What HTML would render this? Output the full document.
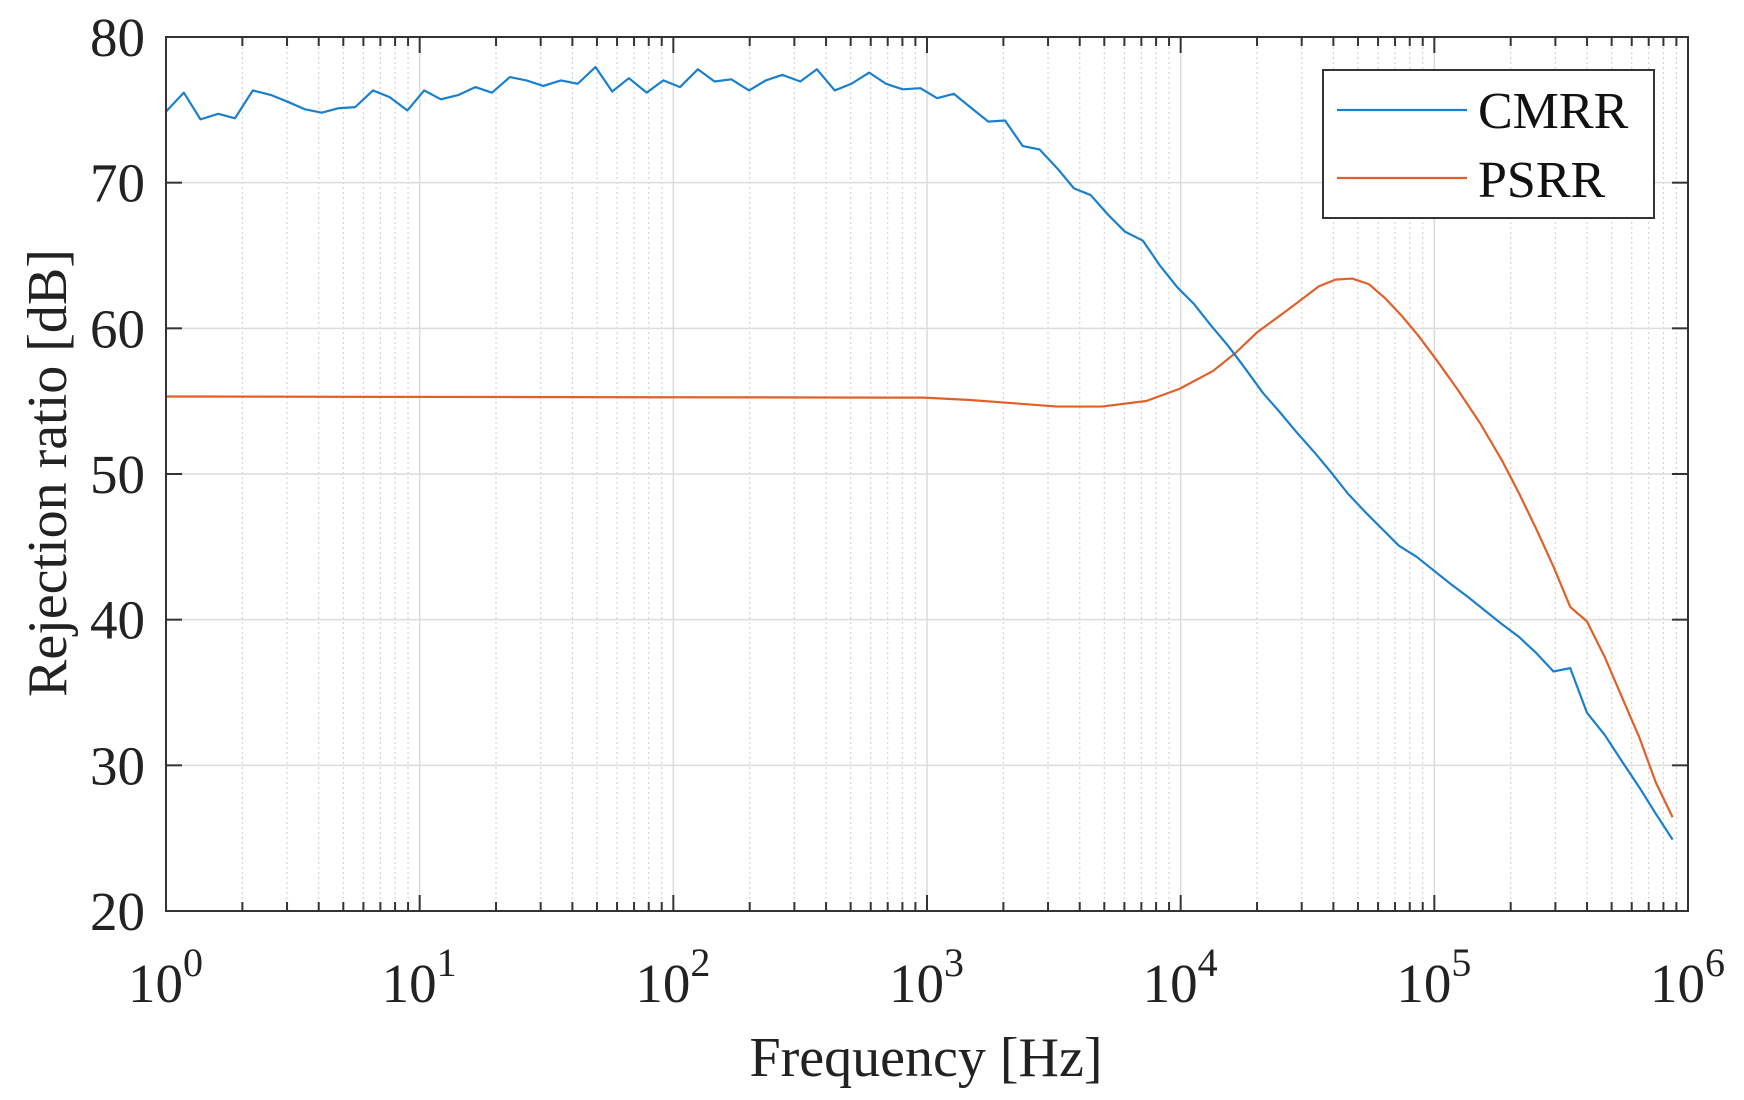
<!DOCTYPE html>
<html><head><meta charset="utf-8"><style>
html,body{margin:0;padding:0;background:#fff;}
svg{display:block;font-family:"Liberation Serif",serif;}
</style></head><body>
<svg id="s" width="1744" height="1100" viewBox="0 0 1744 1100" xmlns="http://www.w3.org/2000/svg">
<rect width="1744" height="1100" fill="#fff"/>
<g id="grid"></g>
<g transform="translate(166,37) scale(1.1127,1.1131) translate(-149,-33)" fill="none" stroke-linejoin="round">
<polyline vector-effect="non-scaling-stroke" stroke="#E0602A" stroke-width="2.2" points="149,356 830,357 870,359 910,362 950,365 990,365 1030,360 1060,349 1090,333 1110,317 1130,298 1160,276 1185,257 1200,251 1215,250 1230,255 1245,268 1260,284 1275,302 1290,322 1310,350 1330,380 1350,414 1365,443 1380,474 1396,509 1411,545 1426,558 1442,590 1457,625 1473,662 1488,703 1503,734"/>
<polyline vector-effect="non-scaling-stroke" stroke="#1A80CC" stroke-width="2.2" points="149,100 165,83 180,107 196,102 211,106 227,81 243,85 258,91 274,98 289,101 304,97 319,96 335,81 350,87 366,99 381,81 396,89 412,85 427,78 442,83 458,69 473,72 488,77 504,72 519,75 535,60 550,82 565,70 581,83 596,72 611,78 627,62 642,73 657,71 673,81 688,72 703,67 719,73 734,62 750,81 765,75 781,65 796,75 811,80 827,79 842,88 857,84 873,97 888,109 903,108 919,131 934,134 950,151 965,169 980,175 996,193 1011,208 1027,216 1042,238 1058,258 1073,273 1088,292 1104,311 1119,331 1135,353 1150,370 1165,388 1181,406 1196,424 1211,443 1227,460 1242,475 1257,490 1273,500 1288,512 1303,524 1319,536 1334,548 1349,560 1365,572 1380,586 1396,603 1411,600 1426,640 1442,660 1457,683 1473,707 1488,731 1503,754"/>
</g>
<rect x="166" y="37" width="1522" height="874" fill="none" stroke="#333" stroke-width="2"/>
<g id="ticks"></g>
<rect x="1323" y="70" width="331" height="148" fill="#fff" stroke="#333" stroke-width="2"/>
<line x1="1337" y1="110" x2="1467" y2="110" stroke="#1A80CC" stroke-width="2.2"/>
<line x1="1337" y1="178" x2="1467" y2="178" stroke="#E0602A" stroke-width="2.2"/>
<text x="1478" y="128" font-size="52" fill="#111">CMRR</text>
<text x="1478" y="197" font-size="52" fill="#111">PSRR</text>
<g id="labels" fill="#222" font-size="55"></g>
<text x="926" y="1076" font-size="56" fill="#222" text-anchor="middle">Frequency [Hz]</text>
<text transform="translate(66,473) rotate(-90)" font-size="56" fill="#222" text-anchor="middle">Rejection ratio [dB]</text>
</svg>
<script>
var NS="http://www.w3.org/2000/svg";
function el(p,t,a,txt){var e=document.createElementNS(NS,t);for(var k in a)e.setAttribute(k,a[k]);if(txt!==undefined)e.textContent=txt;document.getElementById(p).appendChild(e);return e;}
var L=166,R=1688,T=37,B=911,D=(R-L)/6,Y=(B-T)/6;
for(var d=0;d<6;d++){for(var m=1;m<10;m++){var x=L+(d+Math.log10(m))*D;
 if(m>1){el("grid","line",{x1:x,y1:T,x2:x,y2:B,stroke:"#d4d4d4","stroke-width":1.2,"stroke-dasharray":"2,3"});
 el("ticks","line",{x1:x,y1:B,x2:x,y2:B-9,stroke:"#333","stroke-width":2});el("ticks","line",{x1:x,y1:T,x2:x,y2:T+9,stroke:"#333","stroke-width":2});}
 else if(d>0){el("grid","line",{x1:x,y1:T,x2:x,y2:B,stroke:"#dcdcdc","stroke-width":1.5});
 el("ticks","line",{x1:x,y1:B,x2:x,y2:B-16,stroke:"#333","stroke-width":2});el("ticks","line",{x1:x,y1:T,x2:x,y2:T+16,stroke:"#333","stroke-width":2});}}}
for(var i=0;i<=6;i++){var y=T+i*Y;
 if(i>0&&i<6){el("grid","line",{x1:L,y1:y,x2:R,y2:y,stroke:"#dcdcdc","stroke-width":1.5});
 el("ticks","line",{x1:L,y1:y,x2:L+16,y2:y,stroke:"#333","stroke-width":2});el("ticks","line",{x1:R,y1:y,x2:R-16,y2:y,stroke:"#333","stroke-width":2});}
 el("labels","text",{x:145,y:y+19,"text-anchor":"end"},String(80-10*i));}
for(var d=0;d<=6;d++){var x=L+d*D;var t=el("labels","text",{x:x-38,y:1002});
 var a=document.createElementNS(NS,"tspan");a.textContent="10";t.appendChild(a);
 var b=document.createElementNS(NS,"tspan");b.setAttribute("dy","-26");b.setAttribute("font-size","40");b.textContent=String(d);t.appendChild(b);}
</script>
</body></html>
